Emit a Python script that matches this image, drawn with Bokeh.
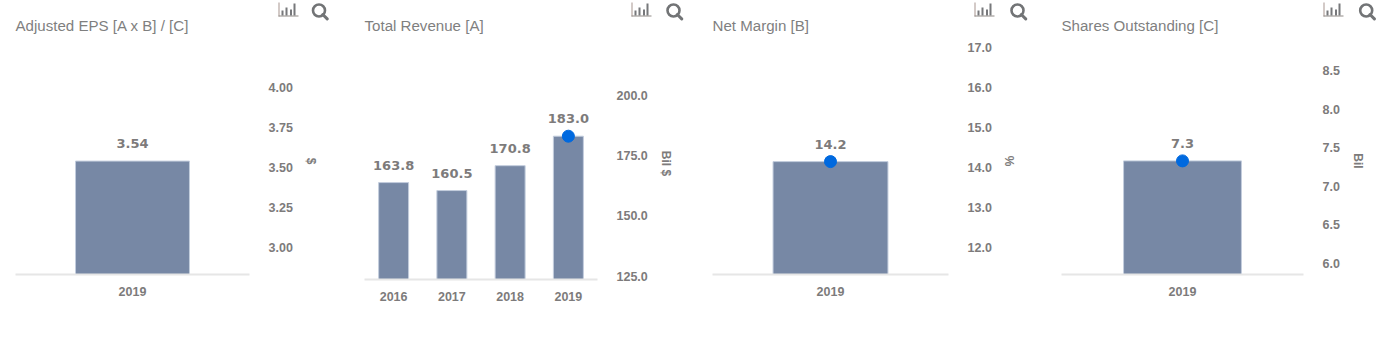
from bokeh.plotting import figure
from bokeh.layouts import row, column
from bokeh.models import (ColumnDataSource, Range1d, FactorRange, LinearAxis, FixedTicker,
                          PrintfTickFormatter)
from bokeh.core.properties import value
from bokeh.embed import file_html
from bokeh.resources import INLINE

# ---- data ----
eps_years = ["2019"]
eps_values = [3.54]
eps_labels = ["3.54"]
eps_ticks = [3.00, 3.25, 3.50, 3.75, 4.00]

rev_years = ["2016", "2017", "2018", "2019"]
rev_values = [163.8, 160.5, 170.8, 183.0]
rev_labels = ["163.8", "160.5", "170.8", "183.0"]
rev_ticks = [125.0, 150.0, 175.0, 200.0]

margin_years = ["2019"]
margin_values = [14.15]
margin_labels = ["14.2"]
margin_ticks = [12.0, 13.0, 14.0, 15.0, 16.0, 17.0]

shares_years = ["2019"]
shares_values = [7.33]
shares_labels = ["7.3"]
shares_ticks = [6.0, 6.5, 7.0, 7.5, 8.0, 8.5]

BAR = "#7788a5"
BAR_EDGE = "#c3cddd"
DOT = "#0069df"
TXT = "#7d7b7b"
TITLE = "#7f7f7f"
MAIN = "Liberation Sans"
FIG_H = 320
STRIP_H = 21


def icon_strip(bar_icon_x, lens_x):
    """A borderless strip whose ranges equal its pixels, holding the chart and search icons."""
    s = figure(width=1386, height=STRIP_H, x_range=Range1d(0, 1386), y_range=Range1d(STRIP_H, 0),
               min_border=0, output_backend="svg", toolbar_location=None, tools="",
               outline_line_color=None, background_fill_color=None, border_fill_color=None,
               x_axis_location=None, y_axis_location=None)
    s.grid.visible = False
    for bx, mx in zip(bar_icon_x, lens_x):
        s.quad(left=[bx], right=[bx + 1], top=[2], bottom=[16], fill_color="#a8958f", line_color=None)
        s.quad(left=[bx], right=[bx + 20], top=[15], bottom=[16], fill_color="#8f8a86", line_color=None)
        s.quad(left=[bx + 3, bx + 7, bx + 11.5, bx + 15], right=[bx + 5, bx + 9, bx + 13.5, bx + 17],
               top=[10, 7, 9, 3], bottom=[15, 15, 15, 15], fill_color="#77787b", line_color=None)
        s.scatter(x=[mx], y=[10], size=12, marker="circle", fill_alpha=0, line_color="#727476", line_width=2.6)
        s.line(x=[mx + 3.8, mx + 8.2], y=[14, 18.4], line_color="#727476", line_width=3, line_cap="round")
    return s


def panel(title, years, values, labels, ticks, fmt, unit, y_start, y_end, left, frame_w, bottom_y, right,
          bar_w, dot, unit_standoff):
    p = figure(frame_width=frame_w, frame_height=bottom_y - 47, x_range=FactorRange(factors=years, range_padding=0),
               y_range=Range1d(y_start, y_end), min_border_left=left, min_border_right=right,
               min_border_top=47, min_border_bottom=FIG_H - bottom_y, output_backend="svg",
               toolbar_location=None, tools="", outline_line_color=None, background_fill_color=None,
               border_fill_color=None, y_axis_location=None)
    p.grid.visible = False
    p.title.text = title
    p.title.align = "left"
    p.title.text_font = MAIN
    p.title.text_font_size = "15.1px"
    p.title.text_font_style = "normal"
    p.title.text_color = TITLE
    p.title.standoff = 28

    src = ColumnDataSource(dict(x=years, top=values, label=labels))
    p.vbar(x="x", top="top", bottom=y_start, width=bar_w, source=src, fill_color=BAR,
           line_color=BAR_EDGE, line_width=1)
    if dot:
        dsrc = ColumnDataSource(dict(x=years[-1:], y=values[-1:]))
        p.scatter(x="x", y="y", size=12, source=dsrc, fill_color=DOT, line_color=DOT)
    p.text(x="x", y="top", text="label", source=src, text_align="center", text_baseline="bottom",
           y_offset=-13, text_font=value("DejaVu Sans"), text_font_style="bold",
           text_font_size="13px", text_color=TXT)

    xa = p.xaxis[0]
    xa.axis_line_color = "#e6e6e6"
    xa.axis_line_width = 2
    xa.major_tick_line_color = None
    xa.minor_tick_line_color = None
    xa.major_label_standoff = 6
    xa.major_label_text_font = MAIN
    xa.major_label_text_font_style = "bold"
    xa.major_label_text_font_size = "12.5px"
    xa.major_label_text_color = TXT

    ya = LinearAxis(ticker=FixedTicker(ticks=ticks), formatter=PrintfTickFormatter(format=fmt))
    ya.axis_line_color = None
    ya.major_tick_line_color = None
    ya.minor_tick_line_color = None
    ya.major_label_standoff = 13
    ya.major_label_text_font = MAIN
    ya.major_label_text_font_style = "bold"
    ya.major_label_text_font_size = "12.5px"
    ya.major_label_text_color = TXT
    ya.axis_label = unit
    ya.axis_label_standoff = unit_standoff
    ya.axis_label_text_font = MAIN
    ya.axis_label_text_font_style = "bold"
    ya.axis_label_text_font_size = "12px"
    ya.axis_label_text_color = TXT
    p.add_layout(ya, "right")
    return p


p1 = panel("Adjusted EPS [A x B] / [C]", eps_years, eps_values, eps_labels, eps_ticks, "%.2f", "$",
           2.831, 4.25, 15, 234, 274, 108, 0.487, False, 8)
p2 = panel("Total Revenue [A]", rev_years, rev_values, rev_labels, rev_ticks, "%.1f", "Bil $",
           123.7, 219.7, 7, 233, 279, 109, 0.515, True, 8)
p3 = panel("Net Margin [B]", margin_years, margin_values, margin_labels, margin_ticks, "%.1f", "%",
           11.33, 17.0, 6, 236, 274, 107, 0.487, True, 7)
p4 = panel("Shares Outstanding [C]", shares_years, shares_values, shares_labels, shares_ticks, "%.1f", "Bil",
           5.857, 8.80, 6, 242, 274, 83, 0.487, True, 8)

strip = icon_strip([278, 631, 974, 1323], [318.5, 673, 1017, 1365.7])
panels = row(p1, p2, p3, p4, spacing=0, styles={"margin-top": f"-{STRIP_H}px"})
root = column(strip, panels, spacing=0)
open("out.html", "w").write(file_html(root, INLINE))
